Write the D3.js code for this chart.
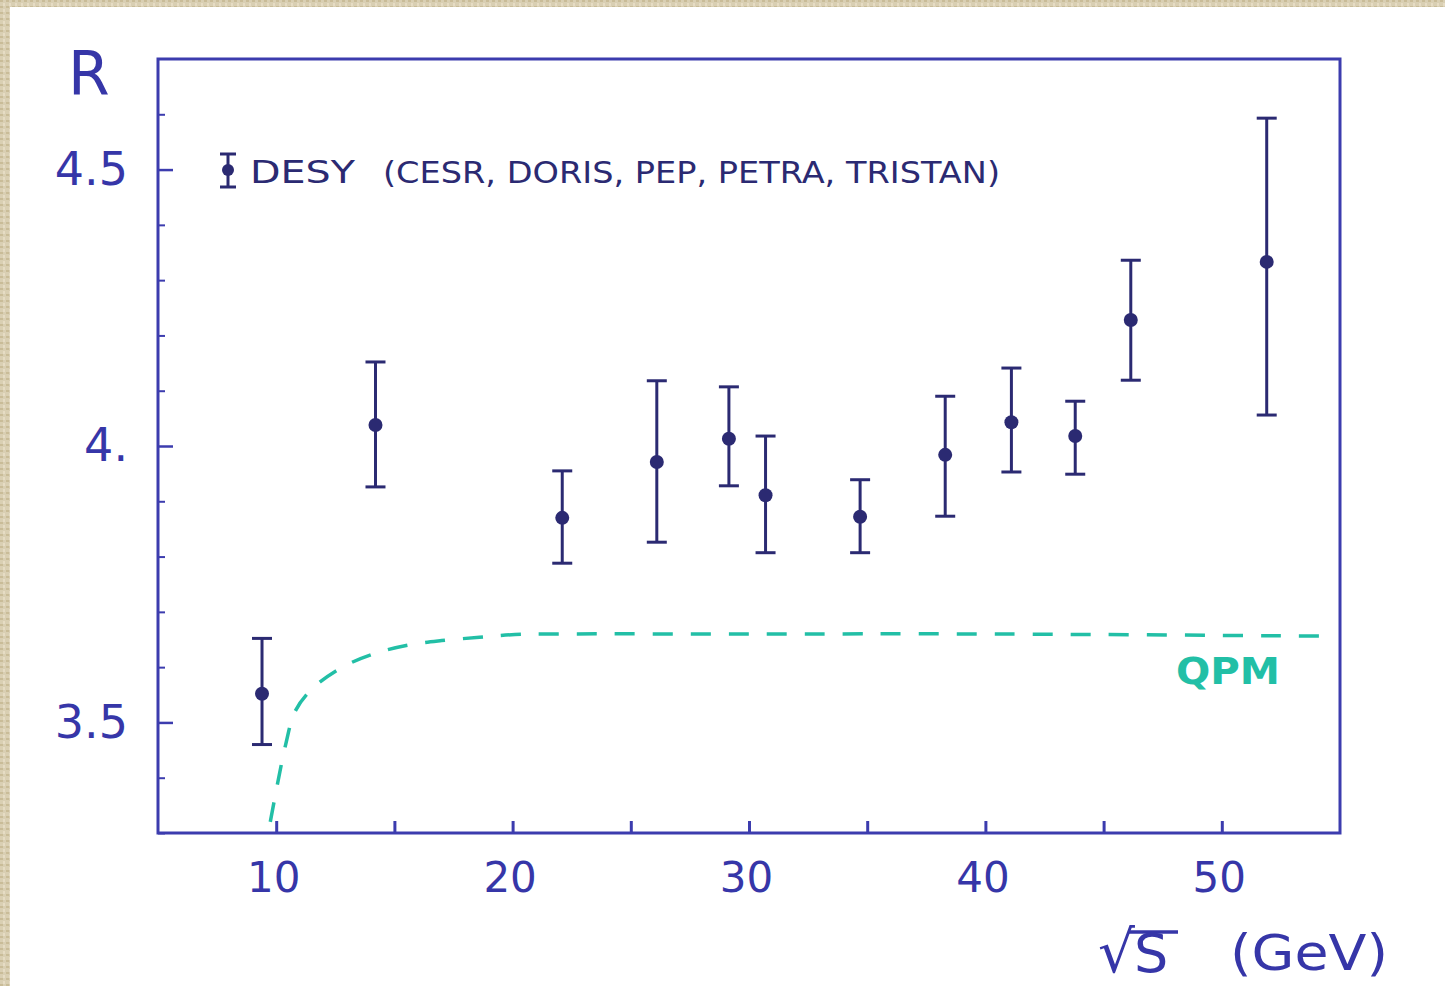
<!DOCTYPE html>
<html>
<head>
<meta charset="utf-8">
<script src="https://cdn.jsdelivr.net/npm/d3@7"></script>
<style>
  html, body { margin: 0; padding: 0; background: #d8cdb1; }
  svg { display: block; }
</style>
</head>
<body>
<svg id="chart" width="1445" height="986"></svg>
<script>
// ---- data ----
const sqrtS   = [9.4, 14.2, 22.1, 26.1, 29.15, 30.7, 34.7, 38.3, 41.1, 43.8, 46.15, 51.9];
const rValue  = [3.552, 4.038, 3.870, 3.971, 4.013, 3.911, 3.872, 3.984, 4.043, 4.018, 4.228, 4.333];
const rUpper  = [3.652, 4.152, 3.955, 4.118, 4.107, 4.018, 3.939, 4.090, 4.141, 4.081, 4.336, 4.593];
const rLower  = [3.460, 3.926, 3.788, 3.826, 3.928, 3.807, 3.807, 3.873, 3.953, 3.949, 4.119, 4.056];

const qpmX = [9.75, 10.4, 10.8, 11.5, 12.8, 14.2, 15.6, 17.0, 18.6, 20.1, 22.0, 30.0, 40.0, 54.6];
const qpmR = [3.32, 3.46, 3.52, 3.56, 3.60, 3.625, 3.64, 3.648, 3.654, 3.659, 3.66, 3.66, 3.66, 3.656];

const xTickValues = [10, 15, 20, 25, 30, 35, 40, 45, 50];
const xTickLabels = ["10", "", "20", "", "30", "", "40", "", "50"];
const yMajorValues = [3.5, 4.0, 4.5];
const yMajorLabels = ["3.5", "4.", "4.5"];
const yMinorValues = [3.3, 3.4, 3.6, 3.7, 3.8, 3.9, 4.1, 4.2, 4.3, 4.4, 4.6];

const legendLabel = "DESY";
const legendLabel2 = "(CESR, DORIS, PEP, PETRA, TRISTAN)";
const yTitle = "R";
const xTitleRoot = "√";
const xTitleVar = "S";
const xTitleUnit = "(GeV)";
const curveLabel = "QPM";

// ---- layout ----
const svg = d3.select("#chart");
const W = 1445, H = 986;
const mLeft = 158, mRight = 1340, mTop = 59, mBottom = 833;
const inkFrame = "#3c3cae";
const inkData = "#2b2a72";
const inkText = "#3636a8";
const teal = "#22bfa6";
const font = "'DejaVu Sans', 'Open Sans', sans-serif";

// paper
const defs = svg.append("defs");
const pat = defs.append("pattern").attr("id", "tex").attr("patternUnits", "userSpaceOnUse")
  .attr("width", 6).attr("height", 6);
pat.append("rect").attr("width", 6).attr("height", 6).attr("fill", "#d9cfb3");
pat.append("rect").attr("x", 0).attr("y", 0).attr("width", 3).attr("height", 2).attr("fill", "#c9bc98");
pat.append("rect").attr("x", 3).attr("y", 3).attr("width", 2).attr("height", 3).attr("fill", "#e6dcc4");
svg.append("rect").attr("width", W).attr("height", H).attr("fill", "url(#tex)");
svg.append("rect").attr("x", 10).attr("y", 7).attr("width", W - 10).attr("height", H - 7).attr("fill", "#ffffff");

const x = d3.scaleLinear().domain([5, 55]).range([mLeft, mRight]);
const y = d3.scaleLinear().domain([3.3, 4.7]).range([mBottom, mTop]);

// frame
svg.append("rect")
  .attr("x", mLeft).attr("y", mTop).attr("width", mRight - mLeft).attr("height", mBottom - mTop)
  .attr("fill", "none").attr("stroke", inkFrame).attr("stroke-width", 3);

// x axis ticks (inside) + labels
const xAxis = d3.axisBottom(x).tickValues(xTickValues).tickSize(-12).tickPadding(30)
  .tickFormat((d, i) => xTickLabels[i]);
const gx = svg.append("g").attr("transform", `translate(0,${mBottom})`).call(xAxis);
gx.select(".domain").remove();
gx.selectAll(".tick line").attr("stroke", inkFrame).attr("stroke-width", 3);
gx.selectAll(".tick text").attr("fill", inkText).attr("font-family", font)
  .attr("font-size", 42).attr("dy", "0.68em").attr("dx", -3);

// y axis major ticks + labels
const yAxis = d3.axisLeft(y).tickValues(yMajorValues).tickSize(-15).tickPadding(30)
  .tickFormat((d, i) => yMajorLabels[i]);
const gy = svg.append("g").attr("transform", `translate(${mLeft},0)`).call(yAxis);
gy.select(".domain").remove();
gy.selectAll(".tick line").attr("stroke", inkFrame).attr("stroke-width", 2.5);
gy.selectAll(".tick text").attr("fill", inkText).attr("font-family", font)
  .attr("font-size", 46);

// y minor ticks
const yMinor = d3.axisLeft(y).tickValues(yMinorValues).tickSize(-7).tickFormat("");
const gym = svg.append("g").attr("transform", `translate(${mLeft},0)`).call(yMinor);
gym.select(".domain").remove();
gym.selectAll(".tick line").attr("stroke", inkFrame).attr("stroke-width", 2);

// QPM curve
const qpmData = qpmX.map((v, i) => [v, qpmR[i]]);
const line = d3.line().x(d => x(d[0])).y(d => y(d[1])).curve(d3.curveCatmullRom.alpha(0.5));
svg.append("path").datum(qpmData).attr("d", line)
  .attr("fill", "none").attr("stroke", teal).attr("stroke-width", 3.5)
  .attr("stroke-dasharray", "20,18");

svg.append("text").attr("x", 1228).attr("y", 684)
  .attr("text-anchor", "middle").attr("fill", teal).attr("font-family", font)
  .attr("font-weight", "bold").attr("font-size", 38)
  .attr("textLength", 104).attr("lengthAdjust", "spacingAndGlyphs")
  .text(curveLabel);

// data points with error bars
const pts = sqrtS.map((v, i) => ({ x: v, r: rValue[i], hi: rUpper[i], lo: rLower[i] }));
const g = svg.append("g");
g.selectAll("line.err").data(pts).join("line").attr("class", "err")
  .attr("x1", d => x(d.x)).attr("x2", d => x(d.x))
  .attr("y1", d => y(d.hi)).attr("y2", d => y(d.lo))
  .attr("stroke", inkData).attr("stroke-width", 3);
g.selectAll("line.capHi").data(pts).join("line").attr("class", "capHi")
  .attr("x1", d => x(d.x) - 10).attr("x2", d => x(d.x) + 10)
  .attr("y1", d => y(d.hi)).attr("y2", d => y(d.hi))
  .attr("stroke", inkData).attr("stroke-width", 3);
g.selectAll("line.capLo").data(pts).join("line").attr("class", "capLo")
  .attr("x1", d => x(d.x) - 10).attr("x2", d => x(d.x) + 10)
  .attr("y1", d => y(d.lo)).attr("y2", d => y(d.lo))
  .attr("stroke", inkData).attr("stroke-width", 3);
g.selectAll("circle").data(pts).join("circle")
  .attr("cx", d => x(d.x)).attr("cy", d => y(d.r)).attr("r", 7)
  .attr("fill", inkData);

// legend
const lg = svg.append("g");
const lx = 228, ly = 170;
lg.append("line").attr("x1", lx).attr("x2", lx).attr("y1", ly - 16).attr("y2", ly + 17)
  .attr("stroke", inkData).attr("stroke-width", 3);
lg.append("line").attr("x1", lx - 8).attr("x2", lx + 8).attr("y1", ly - 16).attr("y2", ly - 16)
  .attr("stroke", inkData).attr("stroke-width", 3);
lg.append("line").attr("x1", lx - 8).attr("x2", lx + 8).attr("y1", ly + 17).attr("y2", ly + 17)
  .attr("stroke", inkData).attr("stroke-width", 3);
lg.append("circle").attr("cx", lx).attr("cy", ly).attr("r", 6).attr("fill", inkData);
lg.append("text").attr("x", 250).attr("y", 183).attr("fill", inkData)
  .attr("font-family", font).attr("font-size", 32)
  .attr("textLength", 105).attr("lengthAdjust", "spacingAndGlyphs").text(legendLabel);
lg.append("text").attr("x", 383).attr("y", 183).attr("fill", inkData)
  .attr("font-family", font).attr("font-size", 30)
  .attr("textLength", 617).attr("lengthAdjust", "spacingAndGlyphs").text(legendLabel2);

// axis titles
svg.append("text").attr("x", 68).attr("y", 95).attr("fill", inkText)
  .attr("font-family", font).attr("font-size", 60).text(yTitle);

const xt = svg.append("g");
xt.append("text").attr("x", 1098).attr("y", 972).attr("fill", inkText)
  .attr("font-family", font).attr("font-size", 58).text(xTitleRoot);
xt.append("line").attr("x1", 1128).attr("x2", 1178).attr("y1", 932).attr("y2", 932)
  .attr("stroke", inkText).attr("stroke-width", 3.5);
xt.append("text").attr("x", 1134).attr("y", 972).attr("fill", inkText)
  .attr("font-family", font).attr("font-size", 54).text(xTitleVar);
xt.append("text").attr("x", 1230).attr("y", 970).attr("fill", inkText)
  .attr("font-family", font).attr("font-size", 50)
  .attr("textLength", 158).attr("lengthAdjust", "spacingAndGlyphs").text(xTitleUnit);
</script>
</body>
</html>
